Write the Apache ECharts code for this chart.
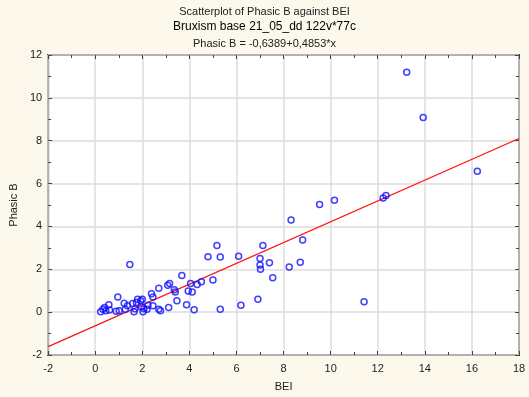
<!DOCTYPE html>
<html>
<head>
<meta charset="utf-8">
<script src="https://cdn.jsdelivr.net/npm/echarts@6/dist/echarts.min.js"></script>
<style>
  html, body { margin: 0; padding: 0; background: #fdf8ec; }
  #chart { width: 529px; height: 397px; }
</style>
</head>
<body>
<div id="chart"></div>
<script>
// BEI vs Phasic B
var bei = [0.23, 0.33, 0.40, 0.45, 0.58, 0.61, 0.89, 0.96, 1.02, 1.23, 1.28, 1.37, 1.47, 1.59, 1.65, 1.69, 1.75, 1.80, 1.93, 1.96,
  2.00, 2.03, 2.07, 2.20, 2.24, 2.39, 2.45, 2.45, 2.70, 2.70, 2.77, 3.08, 3.16, 3.12, 3.36, 3.40, 3.47, 3.68, 3.88, 3.95,
  4.05, 4.12, 4.20, 4.33, 4.51, 5.00, 4.79, 5.17, 5.31, 5.31, 6.09, 6.19, 6.91, 7.00, 7.00, 7.02, 7.12, 7.40, 7.54, 8.24,
  8.32, 8.71, 8.81, 9.53, 10.16, 11.42, 12.23, 12.35, 13.23, 13.93, 16.23];
var phasicB = [0.02, 0.14, 0.22, 0.06, 0.35, 0.10, 0.04, 0.71, 0.06, 0.42, 0.14, 0.30, 2.22, 0.40, 0.02, 0.16, 0.45, 0.60, 0.53, 0.25,
  0.60, 0.02, 0.16, 0.14, 0.32, 0.86, 0.30, 0.71, 1.11, 0.14, 0.06, 1.25, 1.34, 0.22, 1.04, 0.94, 0.53, 1.71, 0.34, 0.99,
  1.34, 0.94, 0.11, 1.29, 1.42, 1.50, 2.59, 3.11, 2.57, 0.14, 2.61, 0.32, 0.60, 2.50, 2.20, 2.00, 3.11, 2.31, 1.60, 2.11,
  4.30, 2.33, 3.37, 5.02, 5.22, 0.49, 5.33, 5.44, 11.20, 9.08, 6.58];
// fitted line end points: Phasic B = -0,6389+0,4853*x
var fitX = [-2, 18];
var fitY = [-1.61, 8.10];

var points = bei.map(function (x, i) { return [x, phasicB[i]]; });
var fitLine = fitX.map(function (x, i) { return [x, fitY[i]]; });

var chart = echarts.init(document.getElementById('chart'));
var font = 'Liberation Sans, Arial, sans-serif';

var tick = { inside: true, length: 4, lineStyle: { color: '#444' } };
var minor = { show: true, splitNumber: 2, length: 3, lineStyle: { color: '#444' } };
var noLine = { show: false, onZero: false };

var option = {
  backgroundColor: '#fdf8ec',
  animation: false,
  title: [
    { text: 'Scatterplot of Phasic B against BEI', left: 'center', top: 1,
      textStyle: { fontFamily: font, fontSize: 11, fontWeight: 'normal', color: '#222' } },
    { text: 'Bruxism base 21_05_dd 122v*77c', left: 'center', top: 16,
      textStyle: { fontFamily: font, fontSize: 12, fontWeight: 'normal', color: '#000' } },
    { text: 'Phasic B = -0,6389+0,4853*x', left: 'center', top: 33,
      textStyle: { fontFamily: font, fontSize: 11, fontWeight: 'normal', color: '#222' } }
  ],
  grid: { left: 41, right: 10, top: 55, bottom: 39, show: true, backgroundColor: '#ffffff', borderColor: '#333', borderWidth: 2 },
  xAxis: [{
    type: 'value', min: -2, max: 18, interval: 2,
    name: 'BEI', nameLocation: 'middle', nameGap: 26,
    nameTextStyle: { fontFamily: font, fontSize: 11, color: '#222' },
    axisLine: noLine, axisTick: tick, minorTick: minor,
    axisLabel: { fontFamily: font, fontSize: 11, color: '#222', margin: 8 },
    splitLine: { lineStyle: { color: '#dcdcdc', width: 1.5 } }
  }, {
    type: 'value', min: -2, max: 18, interval: 2, position: 'top',
    axisLine: noLine, axisTick: tick, minorTick: minor,
    axisLabel: { show: false }, splitLine: { show: false }
  }],
  yAxis: [{
    type: 'value', min: -2, max: 12, interval: 2,
    name: 'Phasic B', nameLocation: 'middle', nameGap: 27,
    nameTextStyle: { fontFamily: font, fontSize: 11, color: '#222' },
    axisLine: noLine, axisTick: tick, minorTick: minor,
    axisLabel: { fontFamily: font, fontSize: 11, color: '#222', margin: 6 },
    splitLine: { lineStyle: { color: '#dcdcdc', width: 1.5 } }
  }, {
    type: 'value', min: -2, max: 12, interval: 2, position: 'right',
    axisLine: noLine, axisTick: tick, minorTick: minor,
    axisLabel: { show: false }, splitLine: { show: false }
  }],
  series: [
    {
      type: 'line', data: fitLine, showSymbol: false, symbol: 'none',
      lineStyle: { color: '#ff1010', width: 1.2 }, z: 2
    },
    {
      type: 'scatter', data: points, symbol: 'circle', symbolSize: 6,
      itemStyle: { color: 'rgba(255,255,255,0)', borderColor: '#1010ff', borderWidth: 1.5 }, z: 3
    }
  ]
};

chart.setOption(option);
</script>
</body>
</html>
